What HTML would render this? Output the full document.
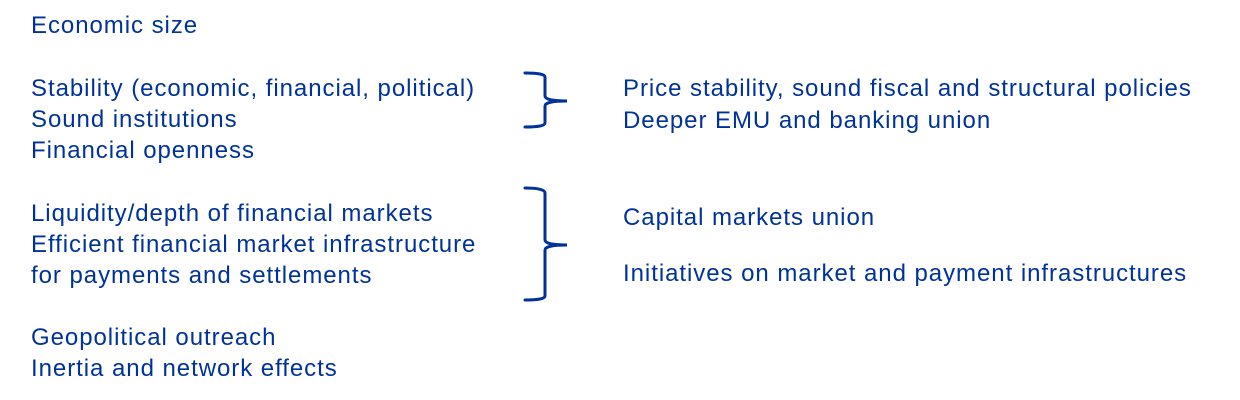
<!DOCTYPE html>
<html><head><meta charset="utf-8"><style>
body{margin:0;width:1240px;height:400px;background:#fff;position:relative;overflow:hidden;font-family:"Liberation Sans",Arial,sans-serif;color:#003399}
.t{position:absolute;font-size:24px;line-height:31px;white-space:nowrap;letter-spacing:0.95px}
</style></head><body>
<div class="t" style="left:31px;top:10px">Economic size</div>
<div class="t" style="left:31px;top:73px">Stability (economic, financial, political)</div>
<div class="t" style="left:31px;top:104px">Sound institutions</div>
<div class="t" style="left:31px;top:135px">Financial openness</div>
<div class="t" style="left:31px;top:198px">Liquidity/depth of financial markets</div>
<div class="t" style="left:31px;top:229px">Efficient financial market infrastructure</div>
<div class="t" style="left:31px;top:260px">for payments and settlements</div>
<div class="t" style="left:31px;top:322px">Geopolitical outreach</div>
<div class="t" style="left:31px;top:353px">Inertia and network effects</div>
<div class="t" style="left:623px;top:73px">Price stability, sound fiscal and structural policies</div>
<div class="t" style="left:623px;top:105px">Deeper EMU and banking union</div>
<div class="t" style="left:623px;top:202px">Capital markets union</div>
<div class="t" style="left:623px;top:258px">Initiatives on market and payment infrastructures</div>
<svg width="1240" height="400" style="position:absolute;left:0;top:0" fill="none" stroke="#003399" stroke-width="3" stroke-linecap="round">
<path d="M525 73 Q545 73 545 77 L545 96 Q545 101 567 101 Q545 101 545 106 L545 123 Q545 127 525 127"/>
<path d="M525 188 Q545 188 545 193 L545 240 Q545 245 567 245 Q545 245 545 250 L545 296 Q545 300 525 300"/>
</svg>
</body></html>
